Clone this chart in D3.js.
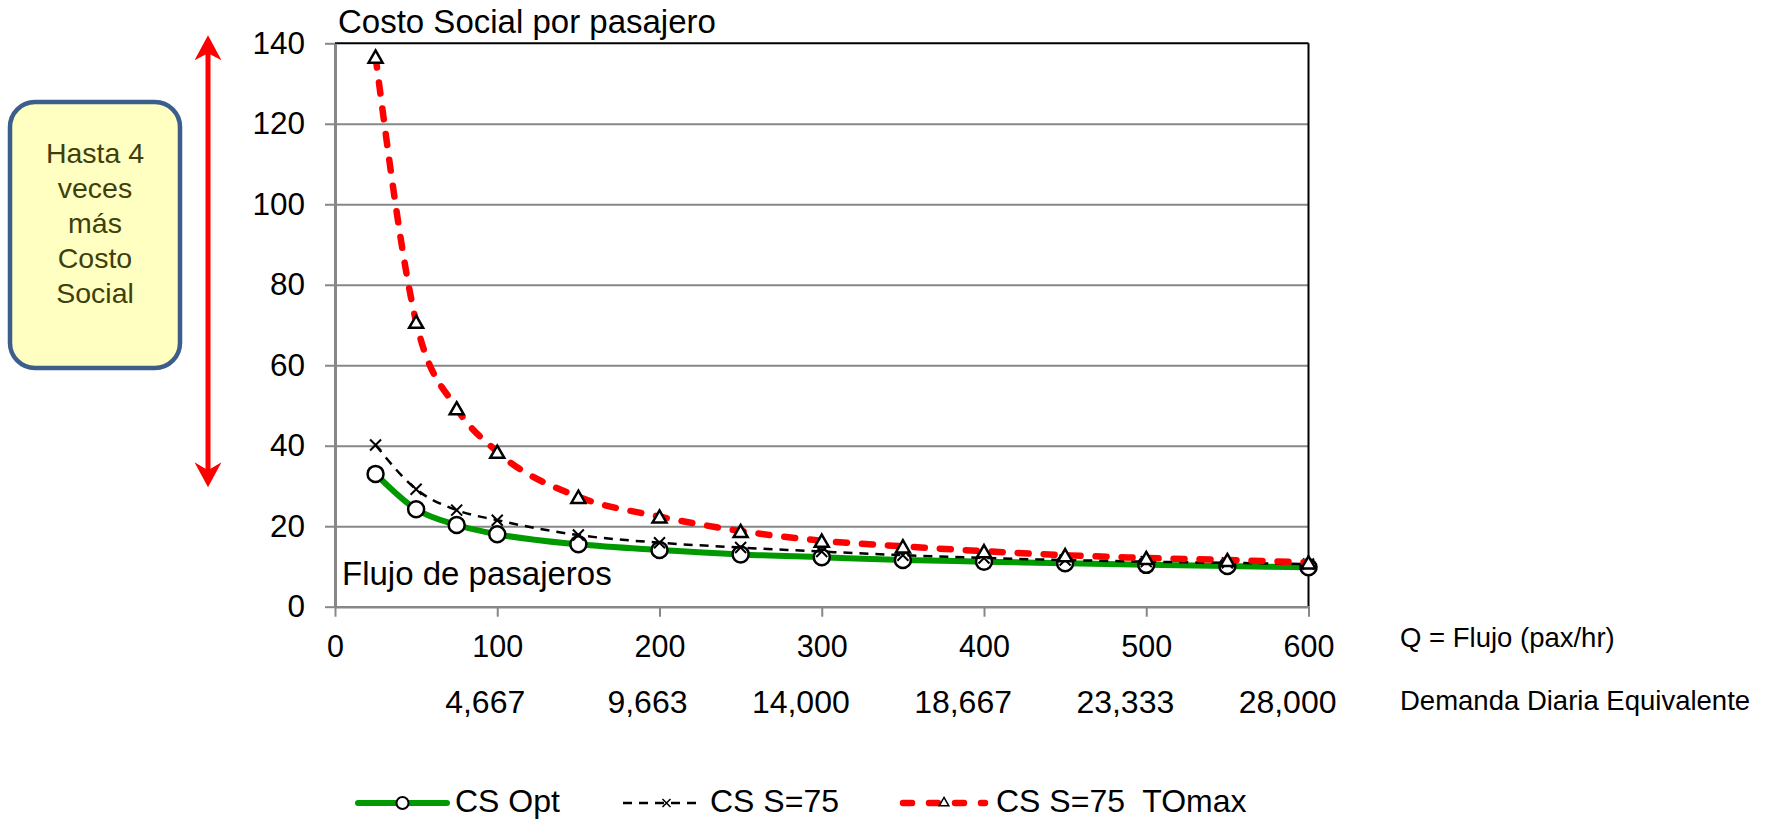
<!DOCTYPE html>
<html>
<head>
<meta charset="utf-8">
<script src="https://cdn.jsdelivr.net/npm/d3@7"></script>
<style>
  body { margin: 0; background: #fff; }
  svg { display: block; font-family: "Liberation Sans", Arial, sans-serif; }
  text { white-space: pre; }
</style>
</head>
<body>
<svg id="chart"></svg>
<script>
// data
const flujo = [25, 50, 75, 100, 150, 200, 250, 300, 350, 400, 450, 500, 550, 600];
const csOpt = [33.0, 24.2, 20.3, 18.0, 15.5, 14.1, 13.0, 12.3, 11.6, 11.2, 10.8, 10.4, 10.1, 9.8];
const csS75 = [40.2, 29.2, 24.0, 21.5, 17.8, 15.9, 14.7, 13.7, 12.8, 12.1, 11.6, 11.2, 10.9, 10.6];
const csS75TOmax = [136.7, 70.8, 49.3, 38.5, 27.3, 22.4, 18.8, 16.4, 15.0, 13.8, 12.8, 12.1, 11.6, 11.0];

const xTicks = [0, 100, 200, 300, 400, 500, 600];
const yTicks = [0, 20, 40, 60, 80, 100, 120, 140];
const demandaQ = [100, 200, 300, 400, 500, 600];
const demandaLabels = ["4,667", "9,663", "14,000", "18,667", "23,333", "28,000"];
const boxLines = ["Hasta 4", "veces", "más", "Costo", "Social"];
const seriesNames = ["CS Opt", "CS S=75", "CS S=75  TOmax"];

const W = 1773, H = 819;
const svg = d3.select("#chart").attr("width", W).attr("height", H);

const xScale = d3.scaleLinear().domain([0, 600]).range([335, 1308.5]);
const yScale = d3.scaleLinear().domain([0, 140]).range([606.7, 43.3]);

const gridColor = "#878787";

// gridlines
svg.append("g")
  .attr("transform", `translate(${xScale(0)},0)`)
  .call(d3.axisLeft(yScale).tickValues(yTicks.slice(1, -1)).tickSize(-(xScale(600) - xScale(0))).tickFormat(""))
  .call((g) => g.select(".domain").remove())
  .call((g) => g.selectAll("line").attr("stroke", gridColor).attr("stroke-width", 2));

// top and right border
svg.append("line")
  .attr("x1", xScale(0)).attr("x2", xScale(600))
  .attr("y1", yScale(140)).attr("y2", yScale(140))
  .attr("stroke", "#000").attr("stroke-width", 2);
svg.append("line")
  .attr("x1", xScale(600)).attr("x2", xScale(600))
  .attr("y1", yScale(140)).attr("y2", yScale(0))
  .attr("stroke", "#000").attr("stroke-width", 2);

// y axis
const yAxis = svg.append("g")
  .attr("transform", `translate(${xScale(0)},0)`)
  .call(d3.axisLeft(yScale).tickValues(yTicks).tickSize(10).tickPadding(20).tickSizeOuter(0));
yAxis.select(".domain").attr("stroke", gridColor).attr("stroke-width", 3);
yAxis.selectAll(".tick line").attr("stroke", gridColor).attr("stroke-width", 2);
yAxis.selectAll(".tick text").attr("font-size", 31.5).attr("fill", "#000")
  .attr("font-family", "Liberation Sans, Arial, sans-serif");

// x axis
const xAxis = svg.append("g")
  .attr("transform", `translate(0,${yScale(0)})`)
  .call(d3.axisBottom(xScale).tickValues(xTicks).tickSize(10).tickSizeOuter(0));
xAxis.select(".domain").attr("stroke", gridColor).attr("stroke-width", 2.5);
xAxis.selectAll(".tick line").attr("stroke", gridColor).attr("stroke-width", 2);
xAxis.selectAll(".tick text").attr("font-size", 30.5).attr("fill", "#000")
  .attr("font-family", "Liberation Sans, Arial, sans-serif")
  .attr("y", 50).attr("dy", null);

// daily demand row
svg.append("g").selectAll("text")
  .data(demandaQ)
  .enter()
  .append("text")
  .attr("x", (d) => xScale(d) + 28)
  .attr("y", 713)
  .attr("text-anchor", "end")
  .attr("font-size", 32)
  .text((d, i) => demandaLabels[i]);

svg.append("text").attr("x", 1400).attr("y", 646.7).attr("font-size", 27.5).text("Q = Flujo (pax/hr)");
svg.append("text").attr("x", 1400).attr("y", 710).attr("font-size", 27.5).text("Demanda Diaria Equivalente");

// titles inside chart
svg.append("text").attr("x", 338).attr("y", 33).attr("font-size", 33).text("Costo Social por pasajero");
svg.append("text").attr("x", 342).attr("y", 585).attr("font-size", 33).text("Flujo de pasajeros");

// series
const pts = (vals) => flujo.map((q, i) => ({ q: q, v: vals[i] }));
const line = d3.line()
  .x((d) => xScale(d.q))
  .y((d) => yScale(d.v))
  .curve(d3.curveMonotoneX);

const crossPath = "M-5.5,-5.5L5.5,5.5M-5.5,5.5L5.5,-5.5";
const triPath = d3.symbol().type(d3.symbolTriangle).size(85)();

// CS Opt
svg.append("path")
  .datum(pts(csOpt))
  .attr("fill", "none")
  .attr("stroke", "#009a00")
  .attr("stroke-width", 6)
  .attr("d", line);
svg.append("g").selectAll("circle")
  .data(pts(csOpt))
  .enter()
  .append("circle")
  .attr("cx", (d) => xScale(d.q))
  .attr("cy", (d) => yScale(d.v))
  .attr("r", 8)
  .attr("fill", "#fff")
  .attr("stroke", "#000")
  .attr("stroke-width", 2.5);

// CS S=75
svg.append("path")
  .datum(pts(csS75))
  .attr("fill", "none")
  .attr("stroke", "#000")
  .attr("stroke-width", 2.5)
  .attr("stroke-dasharray", "9,7")
  .attr("d", line);
svg.append("g").selectAll("path")
  .data(pts(csS75))
  .enter()
  .append("path")
  .attr("transform", (d) => `translate(${xScale(d.q)},${yScale(d.v)})`)
  .attr("d", crossPath)
  .attr("stroke", "#000")
  .attr("stroke-width", 2);

// CS S=75 TOmax
svg.append("path")
  .datum(pts(csS75TOmax))
  .attr("fill", "none")
  .attr("stroke", "#ff0000")
  .attr("stroke-width", 6.5)
  .attr("stroke-linecap", "round")
  .attr("stroke-dasharray", "11,15")
  .attr("d", line);
svg.append("g").selectAll("path")
  .data(pts(csS75TOmax))
  .enter()
  .append("path")
  .attr("transform", (d) => `translate(${xScale(d.q)},${yScale(d.v) + 2})`)
  .attr("d", triPath)
  .attr("fill", "#fff")
  .attr("stroke", "#000")
  .attr("stroke-width", 2.5);

// annotation box
svg.append("rect")
  .attr("x", 10).attr("y", 102)
  .attr("width", 170).attr("height", 266)
  .attr("rx", 25).attr("ry", 25)
  .attr("fill", "#ffffc2")
  .attr("stroke", "#3b5e8c")
  .attr("stroke-width", 4.5);
svg.append("g").selectAll("text")
  .data(boxLines)
  .enter()
  .append("text")
  .attr("x", 95)
  .attr("y", (d, i) => 163 + i * 35)
  .attr("text-anchor", "middle")
  .attr("font-size", 28.5)
  .attr("fill", "#3f3f0c")
  .text((d) => d);

// red double arrow
const ax = 208;
const yTop = yScale(142), yBot = yScale(29.7);
svg.append("line")
  .attr("x1", ax).attr("x2", ax)
  .attr("y1", yTop + 12).attr("y2", yBot - 12)
  .attr("stroke", "#ff0000").attr("stroke-width", 5);
svg.append("path")
  .attr("d", `M${ax},${yTop}L${ax + 13.5},${yTop + 25}L${ax},${yTop + 18}L${ax - 13.5},${yTop + 25}Z`)
  .attr("fill", "#ff0000");
svg.append("path")
  .attr("d", `M${ax},${yBot}L${ax + 13.5},${yBot - 25}L${ax},${yBot - 17}L${ax - 13.5},${yBot - 25}Z`)
  .attr("fill", "#ff0000");

// legend
const legendX = [358, 623, 900];
const legendLen = [89, 79, 88];
const legendY = 803;
const leg = svg.append("g");

leg.append("line")
  .attr("x1", legendX[0]).attr("x2", legendX[0] + legendLen[0])
  .attr("y1", legendY).attr("y2", legendY)
  .attr("stroke", "#009a00").attr("stroke-width", 6).attr("stroke-linecap", "round");
leg.append("circle")
  .attr("cx", legendX[0] + legendLen[0] / 2).attr("cy", legendY).attr("r", 6)
  .attr("fill", "#fff").attr("stroke", "#000").attr("stroke-width", 2);

leg.append("line")
  .attr("x1", legendX[1]).attr("x2", legendX[1] + legendLen[1])
  .attr("y1", legendY).attr("y2", legendY)
  .attr("stroke", "#000").attr("stroke-width", 2.5).attr("stroke-dasharray", "9,7");
leg.append("path")
  .attr("transform", `translate(${legendX[1] + legendLen[1] / 2 + 4},${legendY})`)
  .attr("d", "M-4,-4L4,4M-4,4L4,-4")
  .attr("stroke", "#000").attr("stroke-width", 1.5);

leg.append("line")
  .attr("x1", legendX[2] + 3).attr("x2", legendX[2] + legendLen[2] - 3)
  .attr("y1", legendY).attr("y2", legendY)
  .attr("stroke", "#ff0000").attr("stroke-width", 6.5)
  .attr("stroke-linecap", "round").attr("stroke-dasharray", "9,17");
leg.append("path")
  .attr("transform", `translate(${legendX[2] + legendLen[2] / 2},${legendY})`)
  .attr("d", d3.symbol().type(d3.symbolTriangle).size(40)())
  .attr("fill", "none").attr("stroke", "#000").attr("stroke-width", 1.5);

leg.selectAll("text")
  .data(seriesNames)
  .enter()
  .append("text")
  .attr("x", (d, i) => legendX[i] + legendLen[i] + 8)
  .attr("y", 812)
  .attr("font-size", 32)
  .text((d) => d);
</script>
</body>
</html>
